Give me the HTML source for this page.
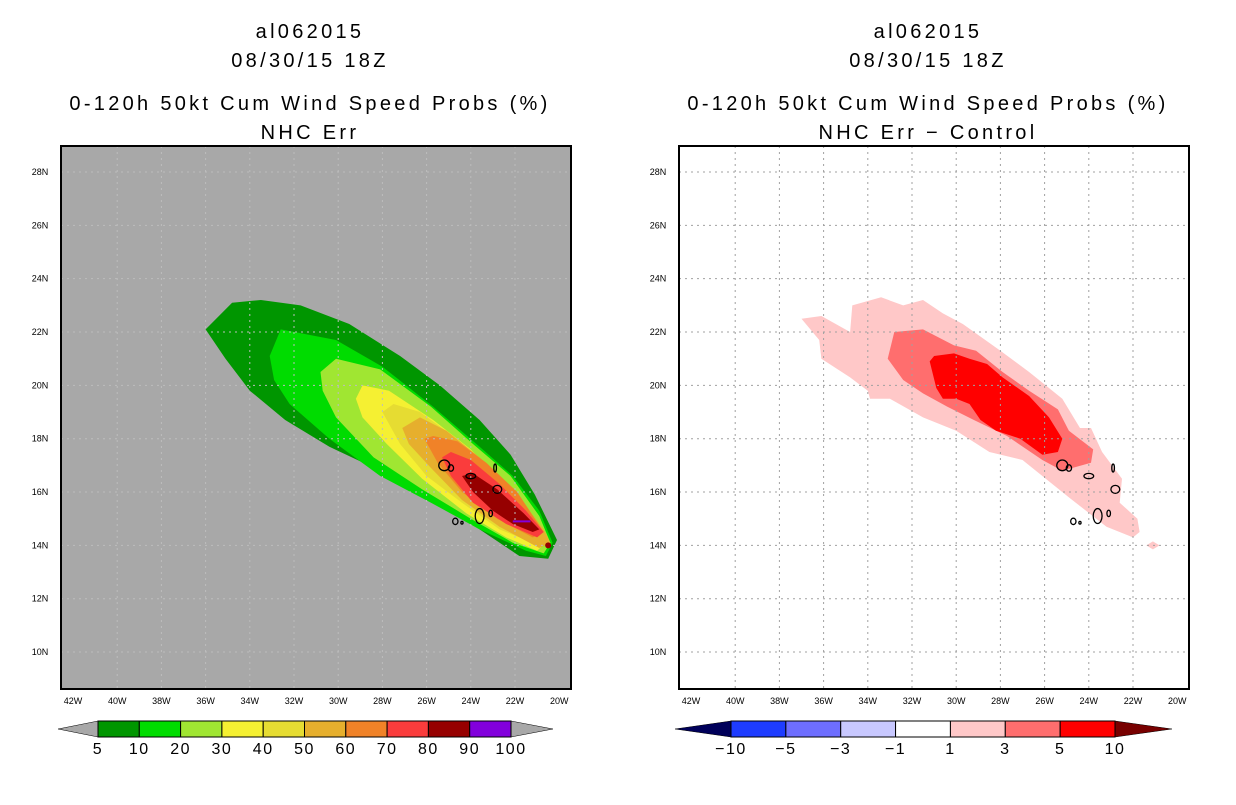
<!DOCTYPE html>
<html><head><meta charset="utf-8">
<style>
body{margin:0;background:#fff;width:1236px;height:800px;overflow:hidden;font-family:"Liberation Sans",sans-serif}
svg text{font-family:"Liberation Sans",sans-serif}
</style></head>
<body>
<svg id="chart" width="1236" height="800" xmlns="http://www.w3.org/2000/svg"></svg>
<script>
// ---- data ----
const lonTicks=[-42,-40,-38,-36,-34,-32,-30,-28,-26,-24,-22,-20];
const latTicks=[10,12,14,16,18,20,22,24,26,28];
const leftLevels=['5','10','20','30','40','50','60','70','80','90','100'];
const leftColors=['#009600','#00dc00','#a0e632','#f5f032','#e6dc32','#e6af2d','#f08228','#fa3c3c','#960000','#8200dc'];
const rightLevels=['−10','−5','−3','−1','1','3','5','10'];
const rightColors=['#1e3cff','#6e6eff','#c8c8ff','#ffffff','#ffc8c8','#ff6e6e','#ff0000'];
const prob5=[[-36.0,22.1],[-34.8,23.1],[-33.5,23.2],[-31.7,23.0],[-29.5,22.3],[-27.2,21.1],[-25.4,20.0],[-23.6,18.7],[-22.2,17.4],[-21.1,15.9],[-20.1,14.2],[-20.5,13.5],[-21.8,13.6],[-23.6,14.6],[-25.8,15.7],[-28.1,16.8],[-30.4,17.7],[-32.4,18.7],[-34.0,19.8],[-35.1,21.0]];
const prob10=[[-33.1,21.1],[-32.6,22.1],[-30.1,21.7],[-28.0,20.7],[-25.7,19.2],[-23.6,17.7],[-22.1,16.6],[-20.9,15.3],[-20.3,14.1],[-20.6,13.6],[-21.5,13.8],[-23.6,14.6],[-25.8,15.6],[-28.1,16.6],[-30.4,18.0],[-32.2,19.3],[-32.9,20.2]];
const prob20=[[-30.8,20.5],[-30.1,21.0],[-28.1,20.6],[-25.8,19.2],[-23.9,17.8],[-22.2,16.6],[-20.9,15.1],[-20.4,14.1],[-20.7,13.7],[-22.1,14.1],[-24.0,15.0],[-26.2,16.1],[-28.4,17.3],[-30.1,18.8],[-30.7,19.8]];
const prob30=[[-29.2,19.5],[-28.9,20.0],[-27.7,19.8],[-25.7,18.7],[-24.0,17.6],[-22.5,16.3],[-21.2,15.1],[-20.6,14.1],[-21.0,13.8],[-22.4,14.3],[-24.2,15.2],[-26.2,16.5],[-27.8,17.8],[-28.9,18.8]];
const prob40=[[-28.0,19.0],[-27.5,19.3],[-26.3,19.0],[-24.8,18.1],[-23.3,16.9],[-21.8,15.7],[-20.7,14.3],[-21.2,14.1],[-22.7,14.6],[-24.4,15.6],[-26.0,16.6],[-27.2,17.8]];
const prob50=[[-27.1,18.4],[-26.3,18.8],[-25.1,18.3],[-23.6,17.3],[-22.1,16.1],[-20.7,14.6],[-20.4,14.1],[-20.9,13.9],[-22.7,14.7],[-24.4,15.7],[-25.8,16.9],[-26.8,17.8]];
const prob60=[[-26.1,18.0],[-25.7,18.1],[-24.6,17.9],[-23.3,17.1],[-21.9,16.0],[-20.7,14.5],[-21.2,14.3],[-22.8,15.0],[-24.4,16.0],[-25.5,17.1]];
const prob70=[[-25.3,17.3],[-24.9,17.5],[-24.0,17.2],[-22.7,16.3],[-21.5,15.3],[-20.7,14.5],[-21.0,14.3],[-22.4,14.8],[-23.9,15.6],[-24.9,16.6]];
const prob80=[[-24.4,16.6],[-23.9,16.7],[-22.8,16.1],[-21.6,15.2],[-20.9,14.6],[-21.2,14.5],[-22.1,14.8],[-23.0,15.3],[-23.9,16.0]];
const diff1=[[-37.0,22.5],[-36.1,22.6],[-34.8,22.0],[-34.7,23.0],[-33.4,23.3],[-32.4,23.0],[-31.5,23.2],[-30.6,22.7],[-29.7,22.3],[-28.0,21.3],[-26.7,20.5],[-25.2,19.5],[-24.4,18.4],[-23.9,18.4],[-23.4,17.5],[-22.5,16.5],[-22.6,15.6],[-21.8,15.0],[-21.7,14.5],[-22.0,14.3],[-23.2,14.7],[-24.9,15.8],[-27.0,17.2],[-28.5,17.5],[-30.0,18.3],[-31.5,18.8],[-33.0,19.5],[-33.9,19.5],[-34.0,19.8],[-34.8,20.3],[-36.1,21.0],[-36.2,21.7]];
const diff1b=[[-21.4,14.0],[-21.1,14.15],[-20.8,14.0],[-21.1,13.85]];
const diff3=[[-33.1,21.0],[-32.8,22.0],[-31.5,22.1],[-30.1,21.5],[-29.1,21.3],[-27.9,20.5],[-26.7,19.8],[-25.4,19.1],[-24.9,18.3],[-23.8,17.6],[-23.9,17.1],[-25.2,16.8],[-26.1,17.2],[-27.7,18.1],[-29.2,18.7],[-30.4,19.2],[-31.5,19.7],[-32.4,20.2]];
const diff5=[[-31.2,20.9],[-31.0,21.1],[-30.1,21.2],[-29.4,21.0],[-28.6,20.8],[-27.9,20.3],[-26.7,19.6],[-25.8,18.8],[-25.2,18.0],[-25.4,17.5],[-26.1,17.4],[-27.1,18.0],[-28.2,18.3],[-28.9,18.7],[-29.4,19.3],[-30.0,19.5],[-30.6,19.5],[-30.9,19.9]];
const islands=[[-25.2,17.0,0.25,0.2],[-24.9,16.9,0.12,0.12],[-24.0,16.6,0.22,0.1],[-22.9,16.9,0.06,0.15],[-22.8,16.1,0.2,0.15],[-23.6,15.1,0.2,0.28],[-23.1,15.2,0.08,0.12],[-24.7,14.9,0.12,0.12],[-24.4,14.85,0.05,0.05]];

// ---- axes ----
const svg=document.getElementById('chart');
const NS='http://www.w3.org/2000/svg';
function mk(tag,attrs,parent){const e=document.createElementNS(NS,tag);for(const k in attrs)e.setAttribute(k,attrs[k]);(parent||svg).appendChild(e);return e;}
function xs(off){return lon=>off+73+(lon+42)*22.1;}
function ys(lat){return 172+(28-lat)*26.67;}
function poly(pts,x,col,g,name){
  const p=mk('polygon',{points:pts.map(q=>x(q[0]).toFixed(1)+','+ys(q[1]).toFixed(1)).join(' '),fill:col},g);
  
  
}
function panel(off,bg,title2,layers,gridCol,prefix){
  const x=xs(off);
  const cx=off+310;
  const t=[['al062015',38],['08/30/15 18Z',67],['0-120h 50kt Cum Wind Speed Probs (%)',110],[title2,139]];
  t.forEach((s,i)=>{const e=mk('text',{x:cx,y:s[1],'text-anchor':'middle','font-size':20,'letter-spacing':3.3,fill:'#000'});e.textContent=s[0];
    
    });
  const g=mk('g',{});
  
  
  mk('rect',{x:off+61,y:146,width:510,height:543,fill:bg},g);
  layers.forEach((l,i)=>poly(l[0],x,l[1],g,prefix+'-contour-'+i));
  lonTicks.forEach(lo=>{if(lo>-42&&lo<-20){const l=mk('line',{x1:x(lo),x2:x(lo),y1:146,y2:689,stroke:gridCol,'stroke-dasharray':'2,4','stroke-width':1},g);
    }});
  latTicks.forEach(la=>{const l=mk('line',{x1:off+61,x2:off+571,y1:ys(la),y2:ys(la),stroke:gridCol,'stroke-dasharray':'2,4','stroke-width':1},g);
    });
  islands.forEach(s=>{const e=mk('ellipse',{cx:x(s[0]),cy:ys(s[1]),rx:s[2]*22.1,ry:s[3]*26.67,fill:'none',stroke:'#000','stroke-width':1.3},g);
    });
  const fr=mk('rect',{x:off+61,y:146,width:510,height:543,fill:'none',stroke:'#000','stroke-width':2},g);
  
  lonTicks.forEach(lo=>{const e=mk('text',{x:x(lo),y:704,'text-anchor':'middle','font-size':9,fill:'#000'});e.textContent=(-lo)+'W';
    });
  latTicks.forEach(la=>{const e=mk('text',{x:off+40,y:ys(la)+3,'text-anchor':'middle','font-size':9,fill:'#000'});e.textContent=la+'N';
    });
}
panel(0,'#a8a8a8','NHC Err',[[prob5,leftColors[0]],[prob10,leftColors[1]],[prob20,leftColors[2]],[prob30,leftColors[3]],[prob40,leftColors[4]],[prob50,leftColors[5]],[prob60,leftColors[6]],[prob70,leftColors[7]],[prob80,leftColors[8]]],'#bdbdbd','left');
panel(618,'#ffffff','NHC Err − Control',[[diff1,rightColors[4]],[diff1b,rightColors[4]],[diff3,rightColors[5]],[diff5,rightColors[6]]],'#a0a0a0','right');
mk('circle',{cx:xs(0)(-20.5),cy:ys(14.0),r:3,fill:'#960000'});
mk('line',{x1:xs(0)(-22.1),x2:xs(0)(-21.3),y1:ys(14.9),y2:ys(14.9),stroke:'#8200dc','stroke-width':2});

function colorbar(x0,x1,y,cols,labels,lc,rc,lx,rx,prefix){
  const g=mk('g',{});
  
  
  const w=(x1-x0)/cols.length;
  mk('polygon',{points:`${lx},${y+8} ${x0},${y} ${x0},${y+16}`,fill:lc,stroke:'#000','stroke-width':0.5},g);
  mk('polygon',{points:`${rx},${y+8} ${x1},${y} ${x1},${y+16}`,fill:rc,stroke:'#000','stroke-width':0.5},g);
  cols.forEach((c,i)=>{const r=mk('rect',{x:x0+i*w,y:y,width:w,height:16,fill:c,stroke:'#000','stroke-width':1},g);
    });
  labels.forEach((s,i)=>{const t=mk('text',{x:x0+i*w,y:y+33,'text-anchor':'middle','font-size':16,'letter-spacing':1.5,fill:'#000'},g);t.textContent=s;
    });
}
colorbar(98,511,721,leftColors,leftLevels,'#a8a8a8','#a8a8a8',58,553,'left');
colorbar(731,1115,721,rightColors,rightLevels,'#00005a','#780000',675,1172,'right');
</script>
</body></html>
